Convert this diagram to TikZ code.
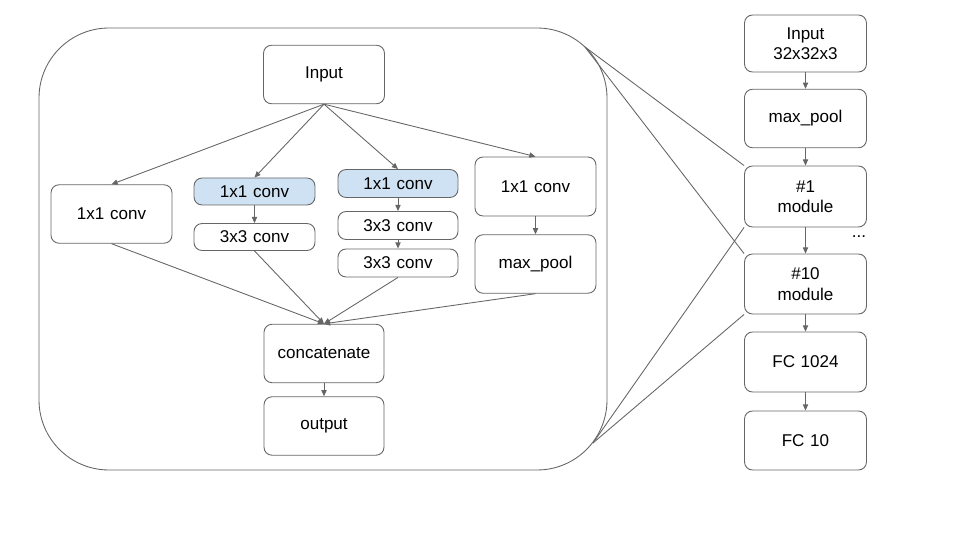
\documentclass[tikz,border=0pt]{standalone}
\usepackage{fontspec}
\setmainfont{Liberation Sans}
\usetikzlibrary{arrows.meta,positioning}
\definecolor{linegray}{HTML}{666666}
\definecolor{convblue}{HTML}{CFE2F3}
\tikzset{%
        block/.style = { draw=linegray, line width=0.5pt, rounded corners=1.6mm, fill=white, align=center, inner sep=0pt, text width=2.3cm, minimum width=2.42cm, minimum height=1.17cm, font=\fontsize{9.7}{11.6}\selectfont },
         slim/.style = { block, minimum height=0.56cm },
      blueblk/.style = { slim, fill=convblue },
         wire/.style = { draw=linegray, line width=0.5pt },
          arr/.style = { wire, -{Triangle[length=3.5pt,width=3pt]} }
}
\begin{document}
\begin{tikzpicture}[x=0.02cm,y=-0.02cm]
\useasboundingbox (0,0) rectangle (960,540);
% the module
\draw[wire, rounded corners=1.4cm] (39,28) rectangle (607,470);
\coordinate (zt) at (585,47);
\coordinate (zb) at (593,443);

\node[block] (in) at (324,74.5) {Input};
\node[block] (ca) at (111.5,214) {1x1 conv};
\node[blueblk, minimum height=0.54cm] (cb1) at (254.5,191.5) {1x1 conv};
\node[slim, minimum height=0.54cm] (cb2) at (254.5,237) {3x3 conv};
\node[blueblk, minimum width=2.4cm] (cc1) at (398,183.5) {1x1 conv};
\node[slim, minimum width=2.4cm] (cc2) at (398,225.5) {3x3 conv};
\node[slim, minimum width=2.4cm] (cc3) at (398,263) {3x3 conv};
\node[block, minimum height=1.18cm] (cd1) at (535.5,186.5) {1x1 conv};
\node[block] (cd2) at (535.5,264) {max\_pool};
\node[block, minimum width=2.4cm] (cat) at (324,353.5) {concatenate};
\node[block, minimum width=2.4cm] (out) at (324,426) {output};

\draw[arr] (in.south) -- (ca.north);
\draw[arr] (in.south) -- (cb1.north);
\draw[arr] (in.south) -- (cc1.north);
\draw[arr] (in.south) -- (cd1.north);
\draw[arr] (cb1) -- (cb2);
\draw[arr] (cc1) -- (cc2);
\draw[arr] (cc2) -- (cc3);
\draw[arr] (cd1) -- (cd2);
\draw[arr] (ca.south) -- (cat.north);
\draw[arr] (cb2.south) -- (cat.north);
\draw[arr] (cc3.south) -- (cat.north);
\draw[arr] (cd2.south) -- (cat.north);
\draw[arr] (cat) -- (out);

% the network
\node[block, minimum width=2.44cm, minimum height=1.14cm] (netin) at (805.5,43.5) {Input\\32x32x3};
\node[block, minimum width=2.44cm] (pool) at (805.5,118.5) {max\_pool};
\node[block, minimum width=2.44cm, minimum height=1.22cm] (mod1) at (805.5,196.5) {\#1\\module};
\node[block, minimum width=2.44cm, minimum height=1.2cm] (mod10) at (805.5,284) {\#10\\module};
\node[block, minimum width=2.44cm, minimum height=1.2cm] (fc1) at (805.5,362) {FC 1024};
\node[block, minimum width=2.44cm, minimum height=1.18cm] (fc2) at (805.5,440.5) {FC 10};
\node[font=\fontsize{9.7}{11.6}\selectfont] (dots) at (859,237) {...};

\draw[arr] (netin) -- (pool);
\draw[arr] (pool) -- (mod1);
\draw[arr] (mod1) -- (mod10);
\draw[arr] (mod10) -- (fc1);
\draw[arr] (fc1) -- (fc2);

\draw[wire] (zt) -- (mod1.north west);
\draw[wire] (zt) -- (mod10.north west);
\draw[wire] (zb) -- (mod1.south west);
\draw[wire] (zb) -- (mod10.south west);
\end{tikzpicture}
\end{document}
